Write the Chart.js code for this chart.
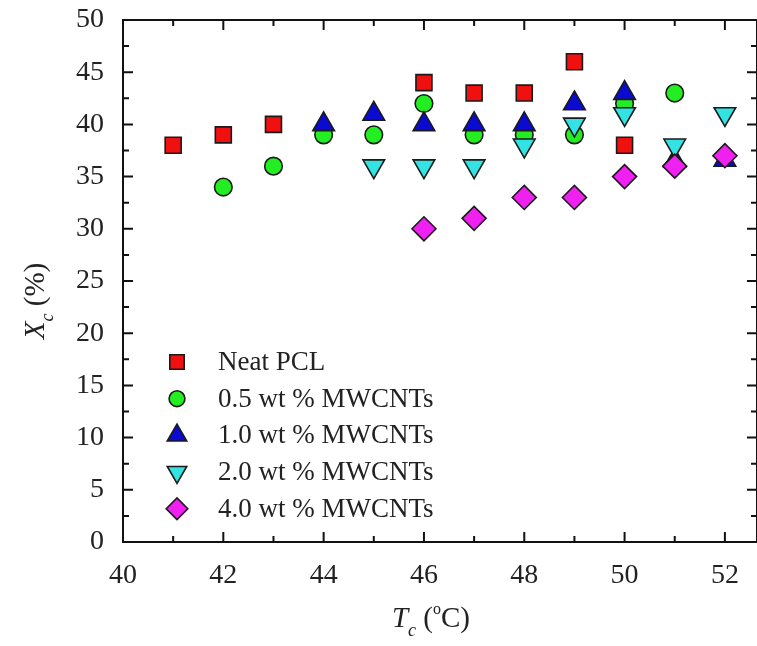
<!DOCTYPE html>
<html>
<head>
<meta charset="utf-8">
<script src="https://cdn.jsdelivr.net/npm/chart.js@4.4.1/dist/chart.umd.min.js"></script>
<style>
  html, body { margin: 0; padding: 0; background: #fff; overflow: hidden; }
  canvas { display: block; }
</style>
</head>
<body>
<canvas id="xcChart" width="757" height="646"></canvas>
<script>
const serif = '"Liberation Serif", "Times New Roman", serif';

// Tc (°C) and Xc (%) for each sample
const tcNeat = [41, 42, 43, 46, 47, 48, 49, 50];
const xcNeat = [38, 39, 40, 44, 43, 43, 46, 38];
const tc05 = [42, 43, 44, 45, 46, 47, 48, 49, 50, 51];
const xc05 = [34, 36, 39, 39, 42, 39, 39, 39, 42, 43];
const tc10 = [44, 45, 46, 47, 48, 49, 50, 51, 52];
const xc10 = [40, 41, 40, 40, 40, 42, 43, 36.5, 36.6];
const tc20 = [45, 46, 47, 48, 49, 50, 51, 52];
const xc20 = [36, 36, 36, 38, 40, 41, 38, 41];
const tc40 = [46, 47, 48, 49, 50, 51, 52];
const xc40 = [30, 31, 33, 33, 35, 36, 37];

const seriesNames = ['Neat PCL', '0.5 wt % MWCNTs', '1.0 wt % MWCNTs', '2.0 wt % MWCNTs', '4.0 wt % MWCNTs'];
const xTicks = [40, 42, 44, 46, 48, 50, 52];
const yTicks = [0, 5, 10, 15, 20, 25, 30, 35, 40, 45, 50];

const toPts = (xs, ys) => xs.map((x, i) => ({x: x, y: ys[i]}));

function mkSet(i, xs, ys, style, rot, r, color, order) {
    return {
        label: seriesNames[i],
        data: toPts(xs, ys),
        pointStyle: style,
        rotation: rot,
        pointRadius: r,
        pointHoverRadius: r,
        backgroundColor: color,
        borderColor: '#1a1a1a',
        pointBorderWidth: 1.6,
        order: order
    };
}

// frame with inward ticks on all four sides
const framePlugin = {
    id: 'frame',
    afterDraw(chart) {
        const {ctx, chartArea: a, scales} = chart;
        const xs = scales.x, ys = scales.y;
        ctx.save();
        ctx.strokeStyle = '#111';
        ctx.lineWidth = 2;
        ctx.strokeRect(a.left, a.top, a.right - a.left, a.bottom - a.top);
        ctx.beginPath();
        for (let v = 40; v <= 52; v++) {
            const px = xs.getPixelForValue(v);
            const len = v % 2 === 0 ? 10 : 6;
            ctx.moveTo(px, a.bottom); ctx.lineTo(px, a.bottom - len);
            ctx.moveTo(px, a.top); ctx.lineTo(px, a.top + len);
        }
        for (let v = 0; v <= 50; v += 2.5) {
            const py = ys.getPixelForValue(v);
            const len = v % 5 === 0 ? 10 : 6;
            ctx.moveTo(a.left, py); ctx.lineTo(a.left + len, py);
            ctx.moveTo(a.right, py); ctx.lineTo(a.right - len, py);
        }
        ctx.stroke();
        ctx.restore();
    }
};

function drawParts(ctx, parts, cx, baseY) {
    let total = 0;
    parts.forEach(p => { ctx.font = p.font; p.w = ctx.measureText(p.t).width; total += p.w; });
    let x = cx - total / 2;
    parts.forEach(p => {
        ctx.font = p.font;
        ctx.fillText(p.t, x, baseY + (p.dy || 0));
        x += p.w;
    });
}

// axis titles with sub/superscripts
const titlePlugin = {
    id: 'titles',
    afterDraw(chart) {
        const ctx = chart.ctx;
        ctx.save();
        ctx.fillStyle = '#222';
        ctx.textBaseline = 'alphabetic';
        ctx.textAlign = 'left';
        drawParts(ctx, [
            {t: 'T', font: 'italic 29px ' + serif},
            {t: 'c', font: 'italic 18px ' + serif, dy: 9},
            {t: ' (', font: '29px ' + serif},
            {t: 'o', font: '16px ' + serif, dy: -13},
            {t: 'C)', font: '29px ' + serif}
        ], 431, 627);
        ctx.translate(44, 301);
        ctx.rotate(-Math.PI / 2);
        drawParts(ctx, [
            {t: 'X', font: 'italic 29px ' + serif},
            {t: 'c', font: 'italic 18px ' + serif, dy: 9},
            {t: ' (%)', font: '29px ' + serif}
        ], 0, 0);
        ctx.restore();
    }
};

// legend inside the plot, lower left
const legendPlugin = {
    id: 'innerLegend',
    afterDraw(chart) {
        const {ctx, chartArea: a} = chart;
        ctx.save();
        ctx.font = '27px ' + serif;
        ctx.textBaseline = 'middle';
        chart.data.datasets.forEach((ds, i) => {
            const y = 362 + i * 36.7;
            const mx = a.left + 54;
            ctx.fillStyle = ds.backgroundColor;
            ctx.strokeStyle = ds.borderColor;
            ctx.lineWidth = ds.pointBorderWidth;
            Chart.helpers.drawPoint(ctx, {
                pointStyle: ds.pointStyle, rotation: ds.rotation,
                radius: ds.pointRadius * 0.9, borderWidth: ds.pointBorderWidth
            }, mx, y);
            ctx.fillStyle = '#222';
            ctx.fillText(ds.label, a.left + 95, y + 1);
        });
        ctx.restore();
    }
};

new Chart(document.getElementById('xcChart'), {
    type: 'scatter',
    data: {
        datasets: [
            mkSet(0, tcNeat, xcNeat, 'rect', 0, 11.3, '#f01010', 5),
            mkSet(1, tc05, xc05, 'circle', 0, 8.8, '#22ee22', 4),
            mkSet(2, tc10, xc10, 'triangle', 0, 12.5, '#0a0ad0', 3),
            mkSet(3, tc20, xc20, 'triangle', 180, 12.5, '#33e3e3', 2),
            mkSet(4, tc40, xc40, 'rectRot', 0, 12, '#f020f0', 1)
        ]
    },
    options: {
        responsive: false,
        animation: false,
        layout: {autoPadding: false, padding: {top: 20, right: 0, left: 0, bottom: 0}},
        plugins: {legend: {display: false}, tooltip: {enabled: false}},
        scales: {
            x: {
                type: 'linear',
                min: 40,
                max: 52.64,
                grid: {display: false},
                border: {display: false},
                afterBuildTicks: s => { s.ticks = xTicks.map(v => ({value: v})); },
                afterFit: s => { s.height = 104; s.paddingLeft = 0; s.paddingRight = 0; },
                ticks: {padding: 9, color: '#222', font: {family: serif, size: 28}}
            },
            y: {
                min: 0,
                max: 50,
                grid: {display: false},
                border: {display: false},
                afterBuildTicks: s => { s.ticks = yTicks.map(v => ({value: v})); },
                afterFit: s => { s.width = 123; s.paddingTop = 0; s.paddingBottom = 0; },
                ticks: {padding: 11, color: '#222', font: {family: serif, size: 28}}
            }
        }
    },
    plugins: [framePlugin, titlePlugin, legendPlugin]
});
</script>
</body>
</html>
